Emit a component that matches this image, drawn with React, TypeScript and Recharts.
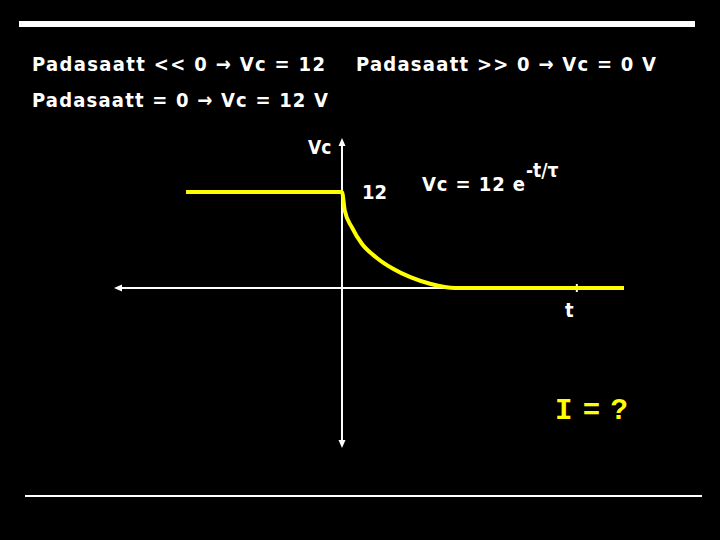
import React from "react";
import { LineChart, Line, XAxis, YAxis, ReferenceLine } from "recharts";

// time (in tau-ish units) and capacitor voltage
const beforeTimes = [-6.84, 0];
const beforeVolts = [12, 12];
const decayTimes = [0, 0.12, 0.43, 0.88, 1.49, 2.24, 3.0, 3.9, 4.96, 12.37];
const decayVolts = [12, 9.7, 7.6, 5.5, 3.85, 2.4, 1.35, 0.5, 0, 0];

const xDomain = [-10, 12.37];
const yDomain = [-20, 18.75];
const hAxisEnds = [-10, 10.3];
const vAxisEnds = [18.75, -20];

const curveData = [
  ...beforeTimes.map((t, i) => ({ t, v: beforeVolts[i] })),
  ...decayTimes.slice(1).map((t, i) => ({ t, v: decayVolts[i + 1] })),
];

const W = 720;
const H = 540;

function arrowHead(x: number, y: number, dir: "l" | "r" | "u" | "d", key: string) {
  const L = 8;
  const w = 3.5;
  let pts = "";
  if (dir === "l") pts = `${x},${y} ${x + L},${y - w} ${x + L},${y + w}`;
  if (dir === "r") pts = `${x},${y} ${x - L},${y - w} ${x - L},${y + w}`;
  if (dir === "u") pts = `${x},${y} ${x - w},${y + L} ${x + w},${y + L}`;
  if (dir === "d") pts = `${x},${y} ${x - w},${y - L} ${x + w},${y - L}`;
  return <polygon key={key} points={pts} fill="#ffffff" />;
}

const hAxisShape = (p: any) => {
  const { x1, y1, x2, y2 } = p;
  const left = Math.min(x1, x2);
  const right = Math.max(x1, x2);
  return (
    <g>
      <line x1={left + 4} y1={y1} x2={right} y2={y2} stroke="#ffffff" strokeWidth={2} />
      {arrowHead(left, y1, "l", "al")}
      <line x1={right} y1={y1 - 4} x2={right} y2={y1 + 4} stroke="#ffffff" strokeWidth={2} />
    </g>
  );
};

const vAxisShape = (p: any) => {
  const { x1, y1, y2 } = p;
  const top = Math.min(y1, y2);
  const bottom = Math.max(y1, y2);
  return (
    <g>
      <line x1={x1} y1={top + 4} x2={x1} y2={bottom - 4} stroke="#ffffff" strokeWidth={2} />
      {arrowHead(x1, top, "u", "au")}
      {arrowHead(x1, bottom, "d", "ad")}
    </g>
  );
};

const boldFont = "'DejaVu Sans Condensed', 'DejaVu Sans', sans-serif";

export default function App() {
  return (
    <div
      style={{
        position: "absolute",
        left: 0,
        top: 0,
        width: W,
        height: H,
        background: "#000000",
        overflow: "hidden",
      }}
    >
      <LineChart
        width={W}
        height={H}
        data={curveData}
        margin={{ top: 138, bottom: 92, left: 114, right: 96 }}
      >
        <XAxis type="number" dataKey="t" domain={xDomain} hide allowDataOverflow />
        <YAxis type="number" domain={yDomain} hide allowDataOverflow />
        <ReferenceLine
          segment={[
            { x: hAxisEnds[0], y: 0 },
            { x: hAxisEnds[1], y: 0 },
          ]}
          shape={hAxisShape}
          ifOverflow="visible"
        />
        <ReferenceLine
          segment={[
            { x: 0, y: vAxisEnds[0] },
            { x: 0, y: vAxisEnds[1] },
          ]}
          shape={vAxisShape}
          ifOverflow="visible"
        />
        <Line
          type="monotone"
          dataKey="v"
          stroke="#ffff00"
          strokeWidth={4}
          dot={false}
          activeDot={false}
          isAnimationActive={false}
        />
      </LineChart>
      <svg
        width={W}
        height={H}
        style={{ position: "absolute", left: 0, top: 0, pointerEvents: "none" }}
      >
        <rect x={19} y={21} width={676} height={6} fill="#ffffff" />
        <rect x={25} y={495} width={677} height={2} fill="#ffffff" />
        <g fontFamily={boldFont} fontWeight="bold" fill="#ffffff">
          <text x={32} y={71} fontSize={20} textLength={293} lengthAdjust="spacing">
            Padasaatt &lt;&lt; 0 → Vc = 12
          </text>
          <text x={356} y={71} fontSize={20} textLength={300} lengthAdjust="spacing">
            Padasaatt &gt;&gt; 0 → Vc = 0 V
          </text>
          <text x={32} y={107} fontSize={20} textLength={296} lengthAdjust="spacing">
            Padasaatt = 0 → Vc = 12 V
          </text>
          <text x={308} y={154} fontSize={19}>Vc</text>
          <text x={362} y={199} fontSize={20}>12</text>
          <text x={422} y={191} fontSize={20} textLength={103} lengthAdjust="spacing">
            Vc = 12 e
          </text>
          <text x={526} y={177} fontSize={19}>-t/τ</text>
          <text x={565} y={317} fontSize={20}>t</text>
        </g>
        <text
          x={555}
          y={419}
          fontFamily="'Liberation Mono', 'DejaVu Sans Mono', monospace"
          fontWeight="bold"
          fontSize={29}
          fill="#ffff00"
          textLength={73}
          lengthAdjust="spacing"
        >
          I = ?
        </text>
      </svg>
    </div>
  );
}
